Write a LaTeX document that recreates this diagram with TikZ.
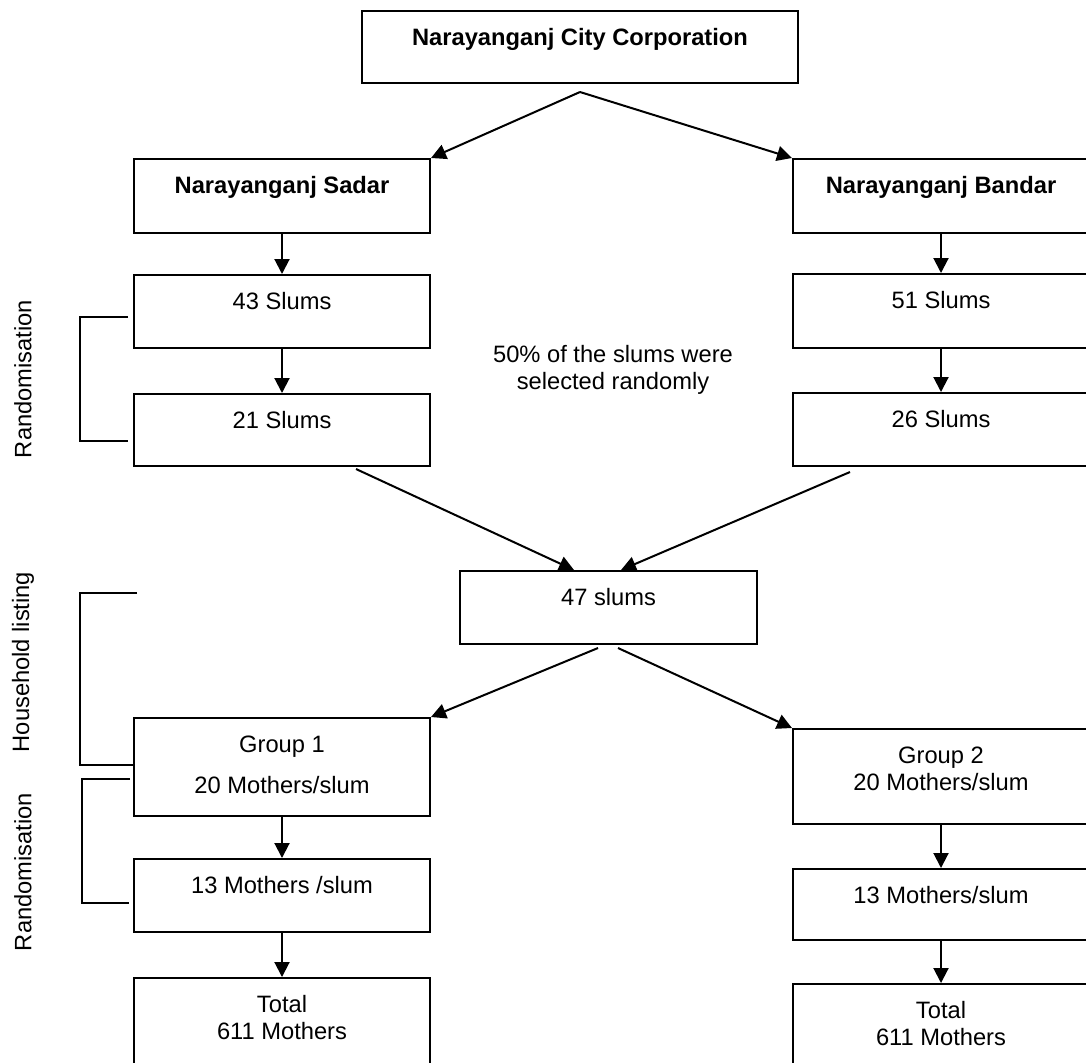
\documentclass[tikz,border=0pt]{standalone}
\usepackage{fontspec}
\setmainfont{Liberation Sans}
\usetikzlibrary{arrows.meta,calc}

\tikzset{
  box/.style={draw, line width=1pt, rectangle, anchor=north west, inner sep=0pt,
    minimum width=148pt, text height=17pt, text depth=#1},
  box/.default=19.5pt,
  flow/.style={line width=1pt, -{Triangle[length=7.5pt,width=7.5pt]}},
  brace/.style={line width=1pt},
  side/.style={rotate=90}
}

\begin{document}
\begin{tikzpicture}[x=0.5pt, y=-0.5pt, font=\fontsize{11.85pt}{13.5pt}\selectfont]
  \useasboundingbox (0,0) rectangle (1086,1062);
  \clip (0,0) rectangle (1086,1062);

  % top level
  \node[box=19pt, minimum width=218pt, font=\fontsize{11.85pt}{13.5pt}\selectfont\bfseries] (city) at (361,10) {Narayanganj City Corporation};
  \node[box=20pt, font=\fontsize{11.85pt}{13.5pt}\selectfont\bfseries] (sadar) at (133,158) {Narayanganj Sadar};
  \node[box=20pt, font=\fontsize{11.85pt}{13.5pt}\selectfont\bfseries] (bandar) at (792,158) {Narayanganj Bandar};

  % slums
  \node[box] (s43) at (133,274) {43 Slums};
  \node[box=19pt] (s21) at (133,393) {21 Slums};
  \node[box=20pt] (s51) at (792,273) {51 Slums};
  \node[box] (s26) at (792,392) {26 Slums};
  \node[align=center] (note) at (613,370) {50\% of the slums were\\selected randomly};
  \node[box, minimum width=148.5pt] (s47) at (459,570) {47 slums};

  % mothers
  \node[box=32pt] (g1) at (133,717) {\begin{tabular}[t]{@{}c@{}}Group 1\\[7pt]20 Mothers/slum\end{tabular}};
  \node[box] (m13l) at (133,858) {13 Mothers /slum};
  \node[box=40pt] (totl) at (133,977) {\begin{tabular}[t]{@{}c@{}}Total\\611 Mothers\end{tabular}};
  \node[box=30.5pt] (g2) at (792,728) {\begin{tabular}[t]{@{}c@{}}Group 2\\20 Mothers/slum\end{tabular}};
  \node[box=18.5pt] (m13r) at (792,868) {13 Mothers/slum};
  \node[box=40pt] (totr) at (792,983) {\begin{tabular}[t]{@{}c@{}}Total\\611 Mothers\end{tabular}};

  % side labels
  \node[side] (rand1) at (23,379) {Randomisation};
  \node[side] (house) at (23,662) {Household listing};
  \node[side] (rand2) at (23,872) {Randomisation};

  % arrows
  \draw[flow] ([yshift=-4pt]city.south) -- (sadar.north east);
  \draw[flow] ([yshift=-4pt]city.south) -- (bandar.north west);
  \draw[flow] (sadar.south) -- (s43.north);
  \draw[flow] (s43.south) -- (s21.north);
  \draw[flow] (bandar.south) -- (s51.north);
  \draw[flow] (s51.south) -- (s26.north);
  \draw[flow] ([xshift=37pt,yshift=-1pt]s21.south) -- ([xshift=-17.25pt]s47.north);
  \draw[flow] ([xshift=29pt,yshift=-2.5pt]s26.south west) -- ([xshift=6.25pt]s47.north);
  \draw[flow] ([xshift=-5.25pt,yshift=-1.5pt]s47.south) -- (g1.north east);
  \draw[flow] ([xshift=4.75pt,yshift=-1.5pt]s47.south) -- (g2.north west);
  \draw[flow] (g1.south) -- (m13l.north);
  \draw[flow] (m13l.south) -- (totl.north);
  \draw[flow] (g2.south) -- (m13r.north);
  \draw[flow] (m13r.south) -- (totr.north);

  % brackets
  \draw[brace] (128,317) -- (80,317) -- (80,441) -- (128,441);
  \draw[brace] (137,593) -- (80,593) -- (80,765) -- (135,765);
  \draw[brace] (130,779) -- (82,779) -- (82,903) -- (129,903);
\end{tikzpicture}
\end{document}
